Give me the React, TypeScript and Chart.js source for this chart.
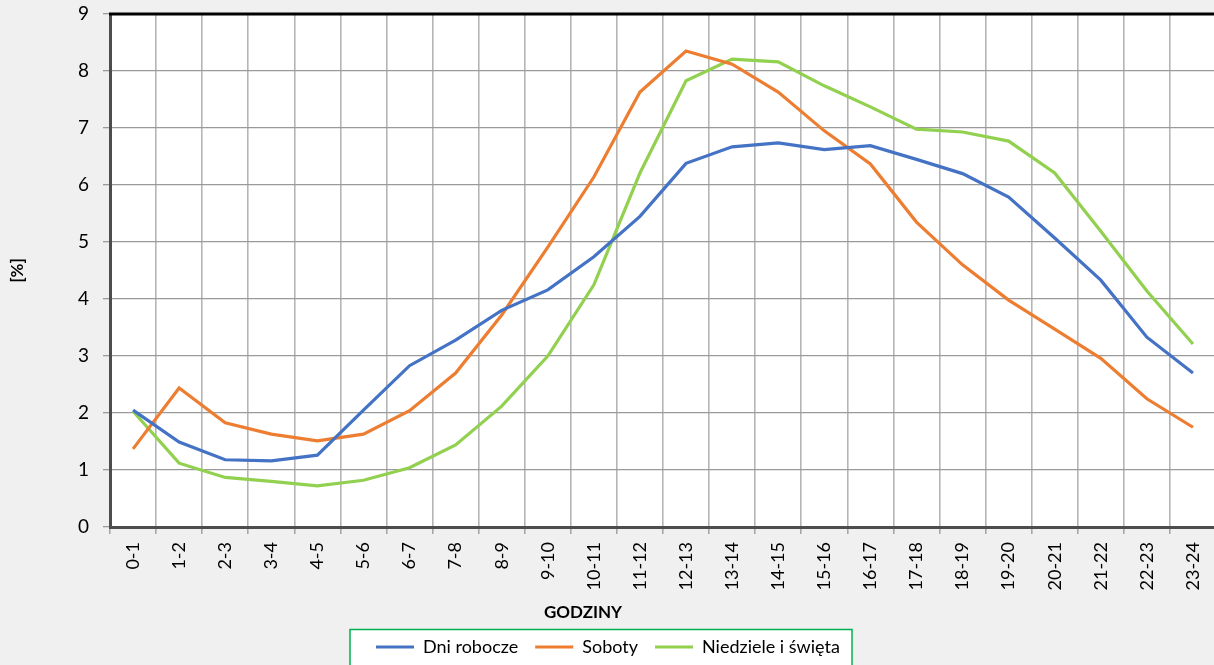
import React, { useEffect, useRef } from "react";
import { Chart, registerables } from "chart.js";

Chart.register(...registerables);

const categories = [
  "0-1", "1-2", "2-3", "3-4", "4-5", "5-6", "6-7", "7-8", "8-9", "9-10", "10-11", "11-12",
  "12-13", "13-14", "14-15", "15-16", "16-17", "17-18", "18-19", "19-20", "20-21", "21-22", "22-23", "23-24",
];

const dniRobocze = [
  2.05, 1.49, 1.18, 1.16, 1.26, 2.05, 2.83, 3.28, 3.8, 4.16, 4.74, 5.45,
  6.38, 6.67, 6.74, 6.62, 6.69, 6.45, 6.2, 5.79, 5.07, 4.33, 3.33, 2.7,
];

const soboty = [
  1.37, 2.44, 1.83, 1.63, 1.51, 1.63, 2.04, 2.7, 3.72, 4.91, 6.14, 7.63,
  8.35, 8.12, 7.63, 6.95, 6.37, 5.35, 4.6, 3.98, 3.47, 2.96, 2.25, 1.75,
];

const niedziele = [
  2.03, 1.12, 0.87, 0.8, 0.72, 0.82, 1.04, 1.44, 2.12, 3.0, 4.25, 6.21,
  7.83, 8.21, 8.16, 7.74, 7.37, 6.98, 6.93, 6.77, 6.21, 5.19, 4.14, 3.21,
];

const seriesNames = ["Dni robocze", "Soboty", "Niedziele i święta"];
const yTitle = "[%]";
const xTitle = "GODZINY";

const FONT = "Lato, 'Noto Sans', sans-serif";

export default function App() {
  const ref = useRef<HTMLCanvasElement | null>(null);

  useEffect(() => {
    if (!ref.current) return;

    const bgPlugin = {
      id: "bgPlugin",
      beforeDraw(chart: any) {
        const { ctx, chartArea, width, height } = chart;
        ctx.save();
        ctx.fillStyle = "#f0f0f0";
        ctx.fillRect(0, 0, width, height);
        ctx.fillStyle = "#ffffff";
        ctx.fillRect(chartArea.left, chartArea.top, chartArea.right - chartArea.left, chartArea.bottom - chartArea.top);
        const lg = chart.legend;
        if (lg) {
          const L = 350, R = 852, T = 629.5;
          const lw = (lg.lineWidths && lg.lineWidths[0]) || 0;
          const pad = 17;
          const startX = 376;
          lg.left = startX - pad - 200;
          lg.right = lg.left + pad + lw + 400;
          lg.width = lg.right - lg.left;
          lg.top = 621;
          ctx.fillStyle = "#ffffff";
          ctx.fillRect(L, T, R - L, 60);
          ctx.strokeStyle = "#00b050";
          ctx.lineWidth = 1.5;
          ctx.strokeRect(L, T, R - L, 60);
        }
        ctx.restore();
      },
      afterDraw(chart: any) {
        const { ctx, chartArea } = chart;
        ctx.save();
        ctx.strokeStyle = "#000000";
        ctx.lineWidth = 3;
        ctx.beginPath();
        ctx.moveTo(chartArea.left - 1, chartArea.top);
        ctx.lineTo(chartArea.right, chartArea.top);
        ctx.stroke();
        ctx.fillStyle = "#000000";
        ctx.font = "bold 17px " + FONT;
        ctx.textAlign = "center";
        ctx.textBaseline = "middle";
        ctx.fillText(xTitle, 583, 613);
        ctx.restore();
      },
    };

    const chart = new Chart(ref.current, {
      type: "line",
      data: {
        labels: categories,
        datasets: [
          { label: seriesNames[0], data: dniRobocze, borderColor: "#4472c4", backgroundColor: "#4472c4", borderWidth: 3.2 },
          { label: seriesNames[1], data: soboty, borderColor: "#ed7d31", backgroundColor: "#ed7d31", borderWidth: 3.2 },
          { label: seriesNames[2], data: niedziele, borderColor: "#92d050", backgroundColor: "#92d050", borderWidth: 3.2 },
        ],
      },
      options: {
        responsive: false,
        animation: false,
        layout: { padding: { top: 14, right: 24, left: 0, bottom: 0 } },
        elements: {
          line: { tension: 0 },
          point: { radius: 0, hoverRadius: 0 },
        },
        plugins: {
          tooltip: { enabled: false },
          legend: {
            position: "bottom",
            labels: {
              usePointStyle: true,
              pointStyle: "line",
              pointStyleWidth: 38,
              padding: 17,
              color: "#000000",
              font: { family: FONT, size: 18 },
            },
          },
        },
        scales: {
          x: {
            type: "category",
            offset: true,
            afterFit(scale: any) {
              scale.height = 108;
              scale.paddingLeft = 0;
              scale.paddingRight = 0;
            },
            grid: {
              offset: true,
              color: "#b5b5b5",
              lineWidth: 1.6,
              tickLength: 7,
              tickColor: "#a6a6a6",
            },
            border: { color: "#4d4d4d", width: 3 },
            ticks: {
              minRotation: 90,
              maxRotation: 90,
              autoSkip: false,
              padding: 8,
              color: "#000000",
              font: { family: FONT, size: 18 },
            },
          },
          y: {
            min: 0,
            max: 9,
            afterFit(scale: any) {
              scale.width = 110;
              scale.paddingTop = 0;
              scale.paddingBottom = 0;
            },
            grid: {
              color: "#9a9a9a",
              lineWidth: 1.3,
              tickLength: 7,
              tickColor: "#9a9a9a",
            },
            border: { color: "#4d4d4d", width: 3 },
            ticks: {
              stepSize: 1,
              padding: 14,
              color: "#000000",
              font: { family: FONT, size: 19 },
            },
            title: {
              display: true,
              text: yTitle,
              color: "#000000",
              padding: { top: 7, bottom: 0 },
              font: { family: FONT, size: 17, weight: "bold" },
            },
          },
        },
      },
      plugins: [bgPlugin],
    } as any);

    return () => chart.destroy();
  }, []);

  return (
    <div
      style={{
        position: "absolute",
        left: 0,
        top: 0,
        width: 1214,
        height: 665,
        overflow: "hidden",
        background: "#f0f0f0",
      }}
    >
      <canvas ref={ref} width={1240} height={680} style={{ display: "block", width: 1240, height: 680 }} />
    </div>
  );
}
